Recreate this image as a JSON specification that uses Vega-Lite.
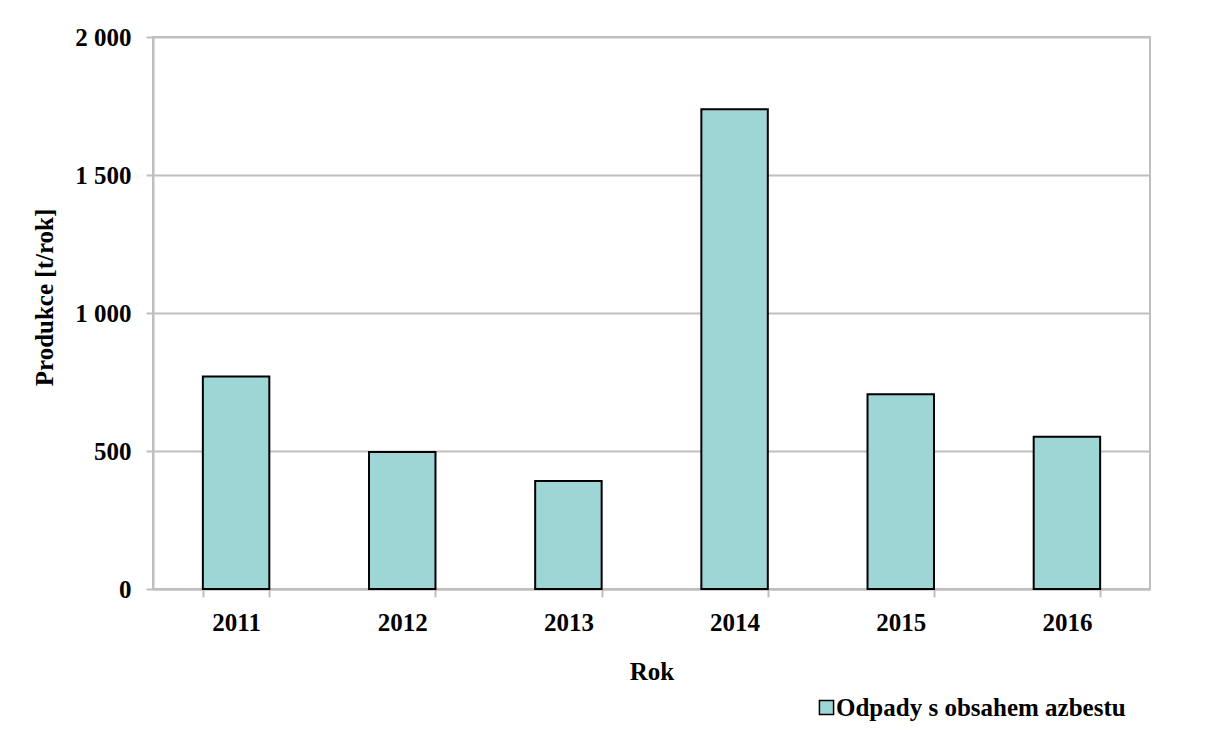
{
  "$schema": "https://vega.github.io/schema/vega-lite/v6.json",
  "width": 997,
  "height": 552,
  "autosize": {"type": "none"},
  "padding": {"left": 153, "top": 37, "right": 59, "bottom": 158},
  "background": "white",
  "data": {
    "values": [
      {"Rok": "2011", "Produkce": 770, "Serie": "Odpady s obsahem azbestu"},
      {"Rok": "2012", "Produkce": 496, "Serie": "Odpady s obsahem azbestu"},
      {"Rok": "2013", "Produkce": 391, "Serie": "Odpady s obsahem azbestu"},
      {"Rok": "2014", "Produkce": 1738, "Serie": "Odpady s obsahem azbestu"},
      {"Rok": "2015", "Produkce": 706, "Serie": "Odpady s obsahem azbestu"},
      {"Rok": "2016", "Produkce": 552, "Serie": "Odpady s obsahem azbestu"}
    ]
  },
  "mark": {"type": "bar", "stroke": "black", "strokeWidth": 2},
  "encoding": {
    "x": {
      "field": "Rok",
      "type": "nominal",
      "scale": {"paddingInner": 0.6, "paddingOuter": 0.3},
      "axis": {
        "title": "Rok",
        "labelAngle": 0,
        "tickBand": "extent",
        "tickSize": 8,
        "labelPadding": 13,
        "titlePadding": 24,
        "domainColor": "#bfbfbf",
        "domainWidth": 2,
        "tickColor": "#bfbfbf",
        "tickWidth": 2
      }
    },
    "y": {
      "field": "Produkce",
      "type": "quantitative",
      "scale": {"domain": [0, 2000], "nice": false},
      "axis": {
        "title": "Produkce [t/rok]",
        "titleY": 260,
        "values": [0, 500, 1000, 1500, 2000],
        "labelExpr": "replace(format(datum.value, ','), ',', ' ')",
        "tickSize": 7,
        "labelPadding": 15,
        "titlePadding": 17,
        "domainColor": "#bfbfbf",
        "domainWidth": 2,
        "tickColor": "#bfbfbf",
        "tickWidth": 2,
        "grid": true,
        "gridColor": "#bfbfbf",
        "gridWidth": 2
      }
    },
    "fill": {
      "field": "Serie",
      "type": "nominal",
      "scale": {"range": ["#9ed6d6"]},
      "legend": {
        "title": null,
        "orient": "none",
        "legendX": 661,
        "legendY": 658,
        "symbolType": "square",
        "symbolSize": 200,
        "symbolStrokeColor": "black",
        "symbolStrokeWidth": 1.5,
        "labelOffset": -3,
        "labelLimit": 0
      }
    }
  },
  "config": {
    "font": "Liberation Serif",
    "view": {"stroke": "#bfbfbf", "strokeWidth": 2},
    "axis": {
      "labelFont": "Liberation Serif",
      "labelFontSize": 25,
      "labelFontWeight": "bold",
      "labelColor": "black",
      "titleFont": "Liberation Serif",
      "titleFontSize": 25,
      "titleFontWeight": "bold",
      "titleColor": "black"
    },
    "legend": {
      "labelFont": "Liberation Serif",
      "labelFontSize": 25,
      "labelFontWeight": "bold",
      "labelColor": "black"
    }
  }
}
